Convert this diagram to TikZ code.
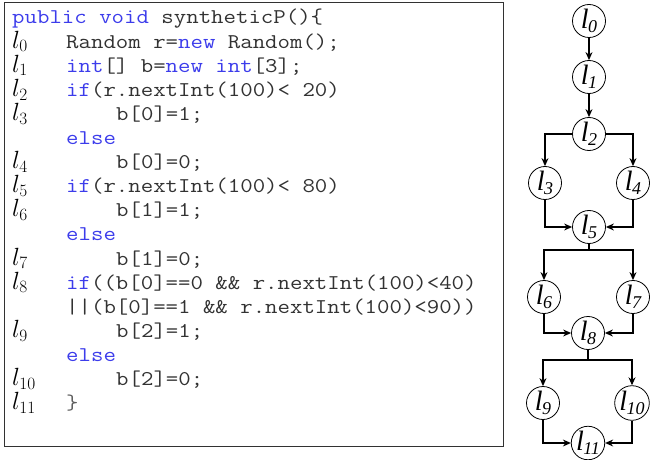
\documentclass[tikz,border=0pt]{standalone}
\usepackage{fontspec}
\usetikzlibrary{arrows.meta}
\newfontfamily\codefont[FakeStretch=1.15]{Latin Modern Mono}
\newfontfamily\lblfont{Liberation Serif}
\definecolor{kwblue}{RGB}{60,60,235}
\definecolor{codegray}{RGB}{50,50,50}
\definecolor{bracegray}{RGB}{95,95,95}
\newcommand\kw[1]{\textcolor{kwblue}{#1}}
\newcommand\lab[1]{{\lblfont\itshape\fontsize{28}{28}\selectfont l\kern-0.5pt\raisebox{-4pt}{\fontsize{18}{18}\selectfont #1}}}
\newcommand\mlab[1]{{\fontsize{24}{24}\selectfont$l_{#1}$}}
\begin{document}
\begin{tikzpicture}[x=1pt,y=-1pt,
  code/.style={anchor=base west,inner sep=0pt,text=codegray,font=\codefont\fontsize{21}{21}\selectfont},
  mlabel/.style={anchor=base west,inner sep=0pt},
  cfg/.style={circle,draw,line width=0.8pt,minimum size=33pt,inner sep=0pt},
  arr/.style={line width=1.1pt,-{Stealth[length=8pt,width=7pt]}},
  ln/.style={line width=1.1pt}]
\useasboundingbox (0,0) rectangle (665,460);
\node[draw=codegray,line width=0.8pt,minimum width=499pt,minimum height=444pt,inner sep=0pt,anchor=north west] (box) at (4,2) {};
% code lines
\node[code] (c0) at (12,24) {\kw{public void} syntheticP()\{};
\node[code] (c1) at (66,48.1) {Random r=\kw{new} Random();};
\node[code] (c2) at (66,72.2) {\kw{int}[] b=\kw{new} \kw{int}[3];};
\node[code] (c3) at (66,96.3) {\kw{if}(r.nextInt(100)< 20)};
\node[code] (c4) at (116,120.4) {b[0]=1;};
\node[code] (c5) at (66,144.5) {\kw{else}};
\node[code] (c6) at (116,168.6) {b[0]=0;};
\node[code] (c7) at (66,192.7) {\kw{if}(r.nextInt(100)< 80)};
\node[code] (c8) at (116,216.8) {b[1]=1;};
\node[code] (c9) at (66,240.9) {\kw{else}};
\node[code] (c10) at (116,265.0) {b[1]=0;};
\node[code] (c11) at (66,289.1) {\kw{if}((b[0]==0 \&\& r.nextInt(100)<40)};
\node[code] (c12) at (66,313.2) {||(b[0]==1 \&\& r.nextInt(100)<90))};
\node[code] (c13) at (116,337.3) {b[2]=1;};
\node[code] (c14) at (66,361.4) {\kw{else}};
\node[code] (c15) at (116,385.5) {b[2]=0;};
\node[code,text=bracegray] (c16) at (66,409.6) {\}};
% line labels
\node[mlabel] (m0) at (12,48.1) {\mlab{0}};
\node[mlabel] (m1) at (12,72.2) {\mlab{1}};
\node[mlabel] (m2) at (12,96.3) {\mlab{2}};
\node[mlabel] (m3) at (12,120.4) {\mlab{3}};
\node[mlabel] (m4) at (12,168.6) {\mlab{4}};
\node[mlabel] (m5) at (12,192.7) {\mlab{5}};
\node[mlabel] (m6) at (12,216.8) {\mlab{6}};
\node[mlabel] (m7) at (12,265.0) {\mlab{7}};
\node[mlabel] (m8) at (12,289.1) {\mlab{8}};
\node[mlabel] (m9) at (12,337.3) {\mlab{9}};
\node[mlabel] (m10) at (12,385.5) {\mlab{10}};
\node[mlabel] (m11) at (12,409.6) {\mlab{11}};
% CFG
\node[cfg] (l0) at (589,21) {\lab{0}};
\node[cfg] (l1) at (589,77) {\lab{1}};
\node[cfg] (l2) at (589,134) {\lab{2}};
\node[cfg] (l3) at (545,183) {\lab{3}};
\node[cfg] (l4) at (633,183) {\lab{4}};
\node[cfg] (l5) at (589,227) {\lab{5}};
\node[cfg] (l6) at (544,297) {\lab{6}};
\node[cfg] (l7) at (633,297) {\lab{7}};
\node[cfg] (l8) at (588,333) {\lab{8}};
\node[cfg] (l9) at (543,403) {\lab{9}};
\node[cfg] (l10) at (632,403) {\lab{10}};
\node[cfg] (l11) at (588,443) {\lab{11}};
\coordinate (j1) at (589,250);
\coordinate (j2) at (588,360);
\draw[arr] (l0) -- (l1);
\draw[arr] (l1) -- (l2);
\draw[arr] (l2) -| (l3);
\draw[arr] (l2) -| (l4);
\draw[arr] (l3) |- (l5);
\draw[arr] (l4) |- (l5);
\draw[ln] (l5) -- (j1);
\draw[arr] (j1) -| (l6);
\draw[arr] (j1) -| (l7);
\draw[arr] (l6) |- (l8);
\draw[arr] (l7) |- (l8);
\draw[ln] (l8) -- (j2);
\draw[arr] (j2) -| (l9);
\draw[arr] (j2) -| (l10);
\draw[arr] (l9) |- (l11);
\draw[arr] (l10) |- (l11);
\end{tikzpicture}
\end{document}
